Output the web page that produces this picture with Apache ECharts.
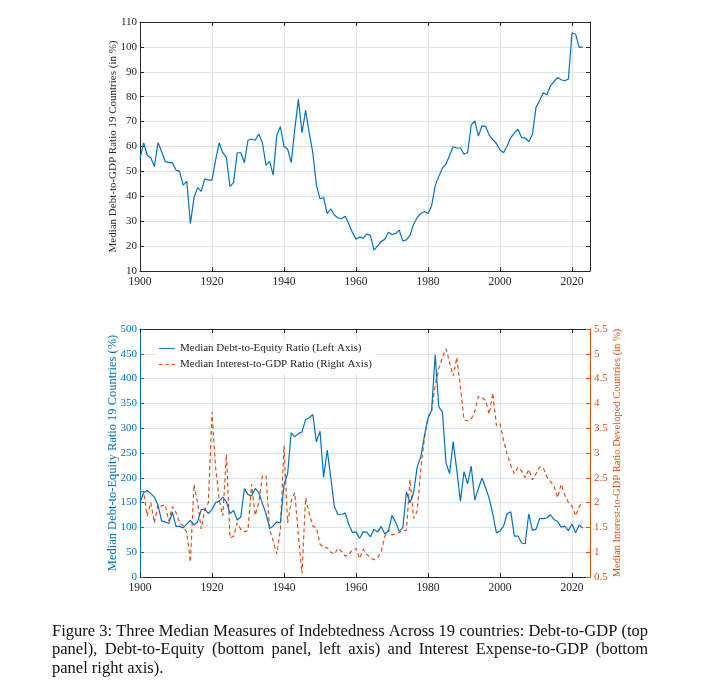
<!DOCTYPE html>
<html><head><meta charset="utf-8">
<script src="https://cdn.jsdelivr.net/npm/echarts@6/dist/echarts.min.js"></script>
<style>html,body{margin:0;padding:0;background:#fff}#c{width:710px;height:687px}</style>
</head><body><div id="c"></div>
<script>
const years = [1900,1901,1902,1903,1904,1905,1906,1907,1908,1909,1910,1911,1912,1913,1914,1915,1916,1917,1918,1919,
1920,1921,1922,1923,1924,1925,1926,1927,1928,1929,1930,1931,1932,1933,1934,1935,1936,1937,1938,1939,
1940,1941,1942,1943,1944,1945,1946,1947,1948,1949,1950,1951,1952,1953,1954,1955,1956,1957,1958,1959,
1960,1961,1962,1963,1964,1965,1966,1967,1968,1969,1970,1971,1972,1973,1974,1975,1976,1977,1978,1979,
1980,1981,1982,1983,1984,1985,1986,1987,1988,1989,1990,1991,1992,1993,1994,1995,1996,1997,1998,1999,
2000,2001,2002,2003,2004,2005,2006,2007,2008,2009,2010,2011,2012,2013,2014,2015,2016,2017,2018,2019,
2020,2021,2022,2023];

const debtToGDP = [55,61.5,56.5,55.5,52,61.5,58,54,53.5,53.5,50.5,50,44.5,46,29,39.5,43.5,42,47,46.5,
46.5,54.5,61.5,57.5,55.5,44,45.5,57.5,57.5,53.5,62.5,63,62.5,65,61.5,52.5,54,48.5,64.5,68,
60,59,53.5,67,79,65.5,74.5,65.5,57.5,44.5,39,39.5,33,35,32.5,31.3,31,32,29,25.5,
22.8,23.7,23.2,24.8,24.3,18.4,20.1,21.9,22.7,25.6,24.7,25,26.4,22.1,22.5,24.3,28.8,31.5,33.1,33.9,
33.1,36.2,44.2,48,51.3,52.9,56.5,59.9,59.4,59.4,56.9,57.5,68.6,70.3,64.2,68.3,68.1,64.6,62.8,61.2,
58.6,57.5,60.3,63.6,65.5,66.9,63.6,63.4,61.9,64.8,75.7,78.4,81.6,80.8,84.3,86.1,87.7,86.8,86.4,87.1,
105.7,105.1,99.8,100];

const debtToEquity = [150,170,174.5,168,161,145,113,111,108,131,102,102,99,107,114,105,111,136,137,128,
136,150,153,161,152,128,134,115,121,178.5,166,164,178.5,170,148,128,98,103,111,109,
186.6,208,290.6,282.6,289,292.6,317.4,321,327.5,272.5,294,201,255.7,200,141.6,125.5,126,129,106,90,
91,78,91,90.6,81,96,90.6,102,86.6,92.6,124,110.7,92,99,171.8,149.7,169.8,222,242,284,
320.8,335.6,448,343,333,230,208.5,273,215,152.5,212.5,188,223.5,155,178.5,199.5,180,158.4,127,89,
92.6,102.5,128,131.3,82.5,82.5,68.5,67,127.5,94,96,117.7,117.7,119,125.5,116,111.7,100.5,102.7,93.5,
107,89,104.8,98.8];

const interestToGDP = [2.22,2.22,1.73,2.0,1.59,1.96,1.93,1.96,1.63,1.92,1.8,1.59,1.53,1.39,0.8,2.37,2.0,1.47,1.86,2.0,
3.82,2.7,2.06,1.73,2.97,1.29,1.32,1.59,1.46,1.41,1.44,2.37,1.74,2.0,2.53,2.55,1.46,1.23,0.96,1.46,
3.15,1.59,2.03,2.2,1.33,0.57,2.1,1.78,1.53,1.49,1.16,1.09,1.09,1.0,0.96,1.08,1.02,0.92,0.95,1.05,
1.07,0.87,1.06,0.96,0.88,0.85,0.89,1.01,1.31,1.45,1.35,1.37,1.4,1.43,1.44,2.47,1.68,1.83,2.68,3.3,
3.72,3.84,4.38,4.7,4.93,5.1,4.83,4.55,4.93,4.33,3.67,3.65,3.68,3.84,4.14,4.12,4.06,3.78,4.21,3.55,
3.59,3.25,2.97,2.75,2.58,2.71,2.64,2.5,2.67,2.46,2.58,2.72,2.7,2.52,2.43,2.33,2.1,2.37,2.15,2.0,
1.93,1.73,1.92,2.02];

const xTicks = [1900,1920,1940,1960,1980,2000,2020];
const captionLines = [
  'Figure 3: Three Median Measures of Indebtedness Across 19 countries: Debt-to-GDP (top',
  'panel), Debt-to-Equity (bottom panel, left axis) and Interest Expense-to-GDP (bottom',
  'panel right axis).'
];
const nameDE = 'Median Debt-to-Equity Ratio (Left Axis)';
const nameIG = 'Median Interest-to-GDP Ratio (Right Axis)';

const F = 'Liberation Serif';
const DARK = '#262626';
const BLUE = '#0072BD';
const ORANGE = '#D95319';

function pairs(vals){ return years.map((y,i)=>[y, vals[i]]); }

function xAx(grid, pos, labels, split){
  return {
    gridIndex: grid, type:'value', min:1900, max:2025, interval:20, position:pos,
    axisLine:{show:true, onZero:false, lineStyle:{color:DARK, width:1}},
    axisTick:{show:true, inside:true, length:4, lineStyle:{color:DARK}, customValues: xTicks},
    axisLabel:{show:labels, color:DARK, fontFamily:F, fontSize:11.5, margin:5, customValues: xTicks,
               formatter: v => String(v)},
    splitLine:{show:split, lineStyle:{color:'#e2e2e2', width:1}}
  };
}

// justified caption layout
const CAP_FONT = 16.5;
const CAP_LEFT = 52, CAP_RIGHT = 648, CAP_TOP = 623, CAP_LH = 18.5;
const mctx = document.createElement('canvas').getContext('2d');
mctx.font = CAP_FONT + 'px "' + F + '"';
const capGraphics = [];
captionLines.forEach((line, li) => {
  const words = line.split(' ');
  const widths = words.map(w => mctx.measureText(w).width);
  const total = widths.reduce((a,b)=>a+b,0);
  const justify = li < captionLines.length - 1;
  const gap = justify ? (CAP_RIGHT - CAP_LEFT - total) / (words.length - 1) : mctx.measureText(' ').width;
  let x = CAP_LEFT;
  words.forEach((w, wi) => {
    capGraphics.push({type:'text', left:x, top:CAP_TOP + li*CAP_LH,
      style:{text:w, fontFamily:F, fontSize:CAP_FONT, fill:'#111'}});
    x += widths[wi] + gap;
  });
});

const chart = echarts.init(document.getElementById('c'), null, {renderer:'canvas'});
chart.setOption({
  animation:false,
  backgroundColor:'#fff',
  grid:[
    {left:140, right:120, top:22, height:249, containLabel:false},
    {left:140, right:120, top:329, height:248, containLabel:false}
  ],
  xAxis:[
    xAx(0,'bottom',true,true),
    xAx(0,'top',false,false),
    xAx(1,'bottom',true,true),
    xAx(1,'top',false,false)
  ],
  yAxis:[
    {gridIndex:0, type:'value', min:10, max:110, interval:10, position:'left',
     name:'Median Debt-to-GDP Ratio 19 Countries (in %)', nameLocation:'middle', nameGap:21,
     nameMoveOverlap:false,
     nameTextStyle:{fontFamily:F, fontSize:11, color:DARK},
     axisLine:{show:true, lineStyle:{color:DARK}},
     axisTick:{show:true, inside:true, length:4, lineStyle:{color:DARK}},
     axisLabel:{color:DARK, fontFamily:F, fontSize:11, margin:3},
     splitLine:{show:true, lineStyle:{color:'#e2e2e2'}}},
    {gridIndex:0, type:'value', min:10, max:110, interval:10, position:'right',
     axisLine:{show:true, lineStyle:{color:DARK}},
     axisTick:{show:true, inside:true, length:4, lineStyle:{color:DARK}},
     axisLabel:{show:false}, splitLine:{show:false}},
    {gridIndex:1, type:'value', min:0, max:500, interval:50, position:'left',
     name:'Median Debt-to-Equity Ratio 19 Countries (%)', nameLocation:'middle', nameGap:21,
     nameMoveOverlap:false,
     nameTextStyle:{fontFamily:F, fontSize:12.5, color:BLUE},
     axisLine:{show:true, lineStyle:{color:BLUE}},
     axisTick:{show:true, inside:true, length:4, lineStyle:{color:BLUE}},
     axisLabel:{color:BLUE, fontFamily:F, fontSize:11, margin:3},
     splitLine:{show:true, lineStyle:{color:'#dae7f3'}}},
    {gridIndex:1, type:'value', min:0.5, max:5.5, interval:0.5, position:'right',
     name:'Median Interest-to-GDP Ratio Developed Countries (in %)', nameLocation:'middle', nameGap:22,
     nameRotate:90, nameMoveOverlap:false,
     nameTextStyle:{fontFamily:F, fontSize:10.5, color:ORANGE},
     axisLine:{show:true, lineStyle:{color:ORANGE}},
     axisTick:{show:true, inside:true, length:4, lineStyle:{color:ORANGE}},
     axisLabel:{color:ORANGE, fontFamily:F, fontSize:11, margin:4},
     splitLine:{show:false}}
  ],
  legend:{
    data:[
      {name:nameDE, icon:'path://M0,0h18v1h-18z'},
      {name:nameIG, icon:'path://M0,0h4v1h-4z M7,0h4v1h-4z M14,0h4v1h-4z'}
    ],
    orient:'vertical', left:156, top:340,
    itemWidth:16, itemHeight:1.3, itemGap:5, backgroundColor:'#fff', padding:[3,4,3,3],
    textStyle:{fontFamily:F, fontSize:11, color:DARK}
  },
  series:[
    {type:'line', xAxisIndex:0, yAxisIndex:0, data:pairs(debtToGDP), symbol:'none',
     lineStyle:{color:BLUE, width:1.2}, itemStyle:{color:BLUE}, z:3},
    {type:'line', name:nameDE, xAxisIndex:2, yAxisIndex:2, data:pairs(debtToEquity), symbol:'none',
     lineStyle:{color:BLUE, width:1.2}, itemStyle:{color:BLUE}, z:3},
    {type:'line', name:nameIG, xAxisIndex:2, yAxisIndex:3, data:pairs(interestToGDP), symbol:'none',
     lineStyle:{color:ORANGE, width:1.2, type:[4,3]}, itemStyle:{color:ORANGE}, z:2}
  ],
  graphic: capGraphics
});
</script></body></html>
